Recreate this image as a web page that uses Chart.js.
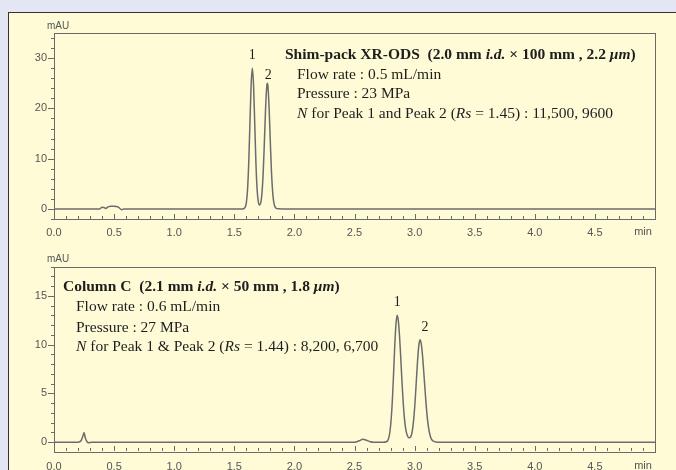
<!DOCTYPE html>
<html>
<head>
<meta charset="utf-8">
<script src="https://cdn.jsdelivr.net/npm/chart.js@4.4.1/dist/chart.umd.min.js"></script>
<style>
  html, body { margin: 0; padding: 0; width: 676px; height: 470px; overflow: hidden; background: #e4e7f3; }
  #panel { position: absolute; left: 8px; top: 12px; width: 700px; height: 480px;
           background: #fefbd6; border-top: 1.5px solid #333; border-left: 1.5px solid #333; }
  canvas { position: absolute; left: 0; }
  #top-chart { top: 18px; }
  #bottom-chart { top: 248px; }
</style>
</head>
<body>
<div id="panel"></div>
<canvas id="top-chart" width="676" height="230"></canvas>
<canvas id="bottom-chart" width="676" height="228"></canvas>

<script>
// ── Data: Shim-pack XR-ODS run (time in min, signal in mAU) ──────
const topTimes  = [0, 0.38, 0.40, 0.415, 0.43, 0.45, 0.47, 0.50, 0.53, 0.55, 0.565, 0.58,
                   1.57, 1.59, 1.60, 1.61, 1.62, 1.63, 1.64, 1.65,
                   1.66, 1.67, 1.68, 1.69, 1.70, 1.71, 1.72, 1.73, 1.74, 1.75, 1.76, 1.77,
                   1.775, 1.78, 1.79, 1.80, 1.81, 1.82, 1.83, 1.84, 1.85, 1.87, 1.90, 5.0];
const topSignal = [0, 0, 0.35, 0.3, 0.1, 0.4, 0.55, 0.55, 0.45, 0.05, -0.15, 0,
                   0, 0.3, 1.2, 3.8, 9.1, 17, 24.7, 28,
                   24.7, 17, 9.1, 3.8, 1.4, 0.8, 1.2, 3.1, 7.0, 13.1, 19.8, 24.4,
                   25, 24.4, 19.8, 13.1, 7.0, 3.1, 1.1, 0.35, 0.1, 0.02, 0, 0];
const topPeakTimes   = [1.65, 1.775];
const topPeakHeights = [28, 25];
const topPeakNames   = ['1', '2'];

// ── Data: Column C run ───────────────────────────────────────────
const bottomTimes  = [0, 0.20, 0.225, 0.24, 0.25, 0.26, 0.275, 0.29, 0.31,
                      2.50, 2.54, 2.57, 2.60, 2.63, 2.66,
                      2.74, 2.765, 2.775, 2.785, 2.795, 2.805, 2.815, 2.825, 2.835, 2.845, 2.855,
                      2.865, 2.875, 2.885, 2.895, 2.905, 2.915, 2.925, 2.935, 2.945, 2.955,
                      2.965, 2.975, 2.985, 2.995, 3.005, 3.015, 3.025, 3.035, 3.045,
                      3.055, 3.065, 3.075, 3.085, 3.095, 3.105, 3.115, 3.125, 3.135, 3.145,
                      3.16, 3.18, 3.20, 5.0];
const bottomSignal = [0, 0, 0.15, 0.6, 1.0, 0.45, 0.05, -0.05, 0,
                      0, 0.15, 0.3, 0.2, 0.05, 0,
                      0, 0.05, 0.15, 0.45, 1.1, 2.35, 4.3, 7.0, 9.9, 12.1, 13.0,
                      12.4, 10.8, 8.6, 6.2, 4.1, 2.5, 1.45, 0.85, 0.55, 0.45,
                      0.5, 0.8, 1.5, 2.7, 4.35, 6.4, 8.4, 9.9, 10.5,
                      10.1, 9.0, 7.4, 5.66, 4.0, 2.6, 1.6, 0.89, 0.46, 0.22,
                      0.08, 0.02, 0, 0];
const bottomPeakTimes   = [2.855, 3.045];
const bottomPeakHeights = [13, 10.5];
const bottomPeakNames   = ['1', '2'];

// ── Condition notes (runs of [text, bold, italic]) ───────────────
const topNotes = [
  [['Shim-pack XR-ODS  (2.0 mm ', 1, 0], ['i.d.', 1, 1], [' \u00d7 100 mm , 2.2 ', 1, 0], ['\u03bcm', 1, 1], [')', 1, 0]],
  [['Flow rate : 0.5 mL/min', 0, 0]],
  [['Pressure : 23 MPa', 0, 0]],
  [['N', 0, 1], [' for Peak 1 and Peak 2 (', 0, 0], ['Rs', 0, 1], [' = 1.45) : 11,500, 9600', 0, 0]],
];
const bottomNotes = [
  [['Column C  (2.1 mm ', 1, 0], ['i.d.', 1, 1], [' \u00d7 50 mm , 1.8 ', 1, 0], ['\u03bcm', 1, 1], [')', 1, 0]],
  [['Flow rate : 0.6 mL/min', 0, 0]],
  [['Pressure : 27 MPa', 0, 0]],
  [['N', 0, 1], [' for Peak 1 & Peak 2 (', 0, 0], ['Rs', 0, 1], [' = 1.44) : 8,200, 6,700', 0, 0]],
];

// ── Styling ──────────────────────────────────────────────────────
const TRACE_COLOR = '#6c6c6c';
const AXIS_COLOR  = '#6a6a6a';
const TICK_TEXT   = '#555555';
const NOTE_COLOR  = '#1e1e1e';
const NOTE_SIZE   = 15.5;
const SANS  = '"Liberation Sans", Arial, sans-serif';
const SERIF = '"Liberation Serif", "Times New Roman", serif';

function toPoints(times, values) {
  return times.map((t, i) => ({ x: t, y: values[i] }));
}

function drawRuns(ctx, x, y, runs, size) {
  runs.forEach(([text, bold, italic]) => {
    ctx.font = `${italic ? 'italic ' : ''}${bold ? 'bold ' : ''}${size}px ${SERIF}`;
    ctx.fillText(text, x, y);
    x += ctx.measureText(text).width;
  });
}

// Box, inward x ticks, outward y ticks, unit labels, peak numbers, notes
const chromDecor = {
  id: 'chromDecor',
  afterDraw(chart, args, o) {
    const { ctx, chartArea: a, scales: { x, y } } = chart;
    ctx.save();
    ctx.strokeStyle = AXIS_COLOR;
    ctx.lineWidth = 1;
    ctx.strokeRect(Math.round(a.left) + 0.5, Math.round(a.top) + 0.5,
                   Math.round(a.right - a.left), Math.round(a.bottom - a.top));

    ctx.beginPath();
    for (let k = Math.ceil(y.min / o.yMinor); k * o.yMinor <= y.max + 1e-9; k++) {
      const v = k * o.yMinor;
      const major = Math.abs(v / o.yMajor - Math.round(v / o.yMajor)) < 1e-6;
      const py = Math.round(y.getPixelForValue(v)) + 0.5;
      ctx.moveTo(a.left - (major ? 6 : 3), py);
      ctx.lineTo(a.left, py);
    }
    for (let k = 0; k * 0.1 <= x.max + 1e-9; k++) {
      const major = k % 5 === 0;
      const px = Math.round(x.getPixelForValue(k * 0.1)) + 0.5;
      ctx.moveTo(px, a.bottom);
      ctx.lineTo(px, a.bottom - (major ? 5 : 3));
    }
    ctx.stroke();

    ctx.fillStyle = TICK_TEXT;
    ctx.font = `10px ${SANS}`;
    ctx.textAlign = 'center';
    ctx.textBaseline = 'middle';
    ctx.fillText('mAU', a.left + 4, a.top - 7);
    ctx.font = `11px ${SANS}`;
    ctx.textBaseline = 'top';
    ctx.fillText('min', a.right - 12, a.bottom + o.labelPad);

    ctx.fillStyle = NOTE_COLOR;
    ctx.font = `14px ${SERIF}`;
    ctx.textBaseline = 'middle';
    o.peakTimes.forEach((t, i) => {
      const [dx, dy] = o.peakLabelOffsets[i];
      ctx.fillText(o.peakNames[i], x.getPixelForValue(t) + dx, y.getPixelForValue(o.peakHeights[i]) + dy);
    });

    ctx.textAlign = 'left';
    o.notes.forEach((runs, i) => {
      const [nx, ny] = o.notePos[i];
      drawRuns(ctx, a.left + nx, a.top + ny, runs, NOTE_SIZE);
    });
    ctx.restore();
  }
};

function makeChart(id, cfg) {
  return new Chart(document.getElementById(id), {
    type: 'line',
    data: {
      datasets: [{
        data: toPoints(cfg.times, cfg.values),
        borderColor: TRACE_COLOR,
        borderWidth: 1.5,
        pointRadius: 0,
        cubicInterpolationMode: 'monotone',
      }],
    },
    options: {
      responsive: false,
      animation: false,
      devicePixelRatio: 1,
      layout: { padding: { top: cfg.padTop, right: 21, left: 0, bottom: 0 } },
      plugins: {
        legend: { display: false },
        tooltip: { enabled: false },
        chromDecor: cfg.decor,
      },
      scales: {
        x: {
          type: 'linear', min: 0, max: 5,
          grid: { display: false, drawTicks: false },
          border: { display: false },
          afterFit: (s) => { s.height = cfg.xAxisHeight; },
          ticks: {
            stepSize: 0.1, autoSkip: false, maxRotation: 0, padding: cfg.decor.labelPad,
            color: TICK_TEXT, font: { family: SANS, size: 11 },
            callback: (v) => (Math.abs(v * 2 - Math.round(v * 2)) < 1e-6 && v < 4.99) ? v.toFixed(1) : '',
          },
        },
        y: {
          min: cfg.yMin, max: cfg.yMax,
          grid: { display: false, drawTicks: false },
          border: { display: false },
          afterFit: (s) => { s.width = 54; },
          ticks: {
            stepSize: cfg.decor.yMinor, autoSkip: false, includeBounds: false, padding: 7,
            color: TICK_TEXT, font: { family: SANS, size: 11 },
            callback: (v) => (Math.abs(v / cfg.decor.yMajor - Math.round(v / cfg.decor.yMajor)) < 1e-6) ? v : '',
          },
        },
      },
    },
    plugins: [chromDecor],
  });
}

makeChart('top-chart', {
  times: topTimes, values: topSignal,
  yMin: -2, yMax: 35, padTop: 15, xAxisHeight: 29,
  decor: {
    yMinor: 2, yMajor: 10, labelPad: 7,
    peakTimes: topPeakTimes, peakHeights: topPeakHeights, peakNames: topPeakNames,
    peakLabelOffsets: [[0, -13], [1, -8]],
    notes: topNotes,
    notePos: [[231, 22], [243, 41.5], [243, 61], [243, 80.5]],
  },
});

makeChart('bottom-chart', {
  times: bottomTimes, values: bottomSignal,
  yMin: -0.9, yMax: 18, padTop: 18.5, xAxisHeight: 25,
  decor: {
    yMinor: 1, yMajor: 5, labelPad: 9,
    peakTimes: bottomPeakTimes, peakHeights: bottomPeakHeights, peakNames: bottomPeakNames,
    peakLabelOffsets: [[0, -13], [5, -12]],
    notes: bottomNotes,
    notePos: [[9, 20.5], [22, 40.5], [22, 61.5], [22, 80.5]],
  },
});
</script>
</body>
</html>
